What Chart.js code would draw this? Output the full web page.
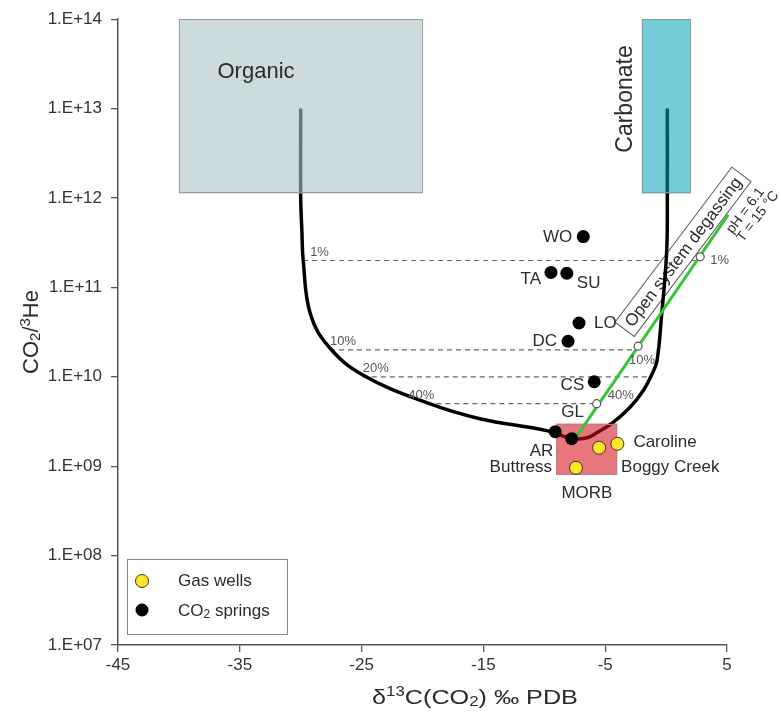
<!DOCTYPE html>
<html>
<head>
<meta charset="utf-8">
<script src="https://cdn.jsdelivr.net/npm/chart.js@4.4.1/dist/chart.umd.min.js"></script>
<style>
  html, body { margin:0; padding:0; background:#fff; }
  canvas { display:block; }
</style>
</head>
<body>
<canvas id="isoChart" width="781" height="716"></canvas>
<script>
const X_TICKS = [-45, -35, -25, -15, -5, 5];
const Y_TICKS = [1e7, 1e8, 1e9, 1e10, 1e11, 1e12, 1e13, 1e14];

// organic -> MORB -> carbonate mixing curve
const CURVE_X = [-30.0, -30.0, -29.9, -29.8, -29.2, -27.6, -24.9, -19.6, -15.3, -9.8, -7.7, -6.5, -5.7, -4.4, -3.0, -1.9, -1.16, -0.75, -0.34, -0.1, 0.07, 0.1, 0.1];
const CURVE_Y = [1e13, 1e12, 4.2e11, 2.06e11, 5e10, 2.1e10, 1.05e10, 5.1e9, 3.4e9, 2.5e9, 2.03e9, 2.08e9, 2.36e9, 3.05e9, 4.5e9, 6.95e9, 1.07e10, 1.5e10, 5.4e10, 1.26e11, 3.0e11, 1e12, 1e13];

// mixing percentages (dashed)
const MIX_LEVELS  = ['1%', '10%', '20%', '40%'];
const MIX_Y       = [2e11, 2e10, 1e10, 5e9];
const MIX_X_LEFT  = [-29.8, -27.6, -24.9, -19.6];
const MIX_X_RIGHT = [2.6, -2.4, -1.2, -5.8];

// open system degassing trend
const DEGAS_X = [-7.3, 5.1];
const DEGAS_Y = [2.2e9, 6.5e11];
const DEGAS_PT_LABELS = ['1%', '10%', '40%'];
const DEGAS_PT_X = [2.8, -2.3, -5.7];
const DEGAS_PT_Y = [2.2e11, 2.2e10, 5e9];

const OUTLIER_X = [8.4];
const OUTLIER_Y = [2.6e9];

const SPRING_NAMES = ['WO', 'TA', 'SU', 'LO', 'DC', 'CS', 'GL', 'AR'];
const SPRING_X = [-6.8, -9.45, -8.15, -7.15, -8.05, -5.9, -7.75, -9.1];
const SPRING_Y = [3.7e11, 1.47e11, 1.44e11, 4.0e10, 2.5e10, 8.8e9, 2.03e9, 2.43e9];

const WELL_NAMES = ['Caroline', 'Boggy Creek', 'Buttress'];
const WELL_X = [-4.0, -5.5, -7.4];
const WELL_Y = [1.78e9, 1.61e9, 9.6e8];

// end-member fields
const SOURCE_NAMES = ['Organic', 'Carbonate', 'MORB'];
const SOURCE_X0 = [-40, -2, -9];
const SOURCE_X1 = [-20, 2, -4];
const SOURCE_Y0 = [1.12e12, 1.12e12, 8e8];
const SOURCE_Y1 = [1e14, 1e14, 3e9];

const FONT = '"Liberation Sans", Arial, sans-serif';
const TEXT = '#2b2b2b';
const SOURCE_STYLE = {
  Organic:   { fill:'rgba(172,195,202,0.6)', line:'#9a9a9a' },
  Carbonate: { fill:'rgba(0,162,184,0.55)',  line:'#8a9a9c' },
  MORB:      { fill:'rgba(214,10,25,0.56)',  line:'#a88' },
};
// label placement around each sample: [dx, dy, align]
const LABEL_POS = {
  WO:[-11,1,'right'], TA:[-10,7,'right'], SU:[10,10,'left'], LO:[15,0,'left'],
  DC:[-11,0,'right'], CS:[-10,4,'right'], GL:[1,-26,'center'], AR:[-2,20,'right'],
  'Caroline':[16,-1,'left'], 'Boggy Creek':[22,20,'left'], 'Buttress':[-24,0,'right'],
};

const pts = (xs, ys) => xs.map((x, i) => ({ x, y: ys[i] }));

const datasets = [];
datasets.push({
  label:'mixing', data: pts(CURVE_X, CURVE_Y), showLine:true,
  borderColor:'#000', borderWidth:3.5, pointRadius:0, tension:0.4, order:9,
});
const CURVE_IDX = 0;
MIX_LEVELS.forEach((lv, i) => datasets.push({
  label:lv, data: pts([MIX_X_LEFT[i], MIX_X_RIGHT[i]], [MIX_Y[i], MIX_Y[i]]), showLine:true,
  borderColor:'#666', borderWidth:1.2, borderDash:[5,4], pointRadius:0, order:10,
}));
datasets.push({
  label:'degassing', data: pts(DEGAS_X, DEGAS_Y), showLine:true,
  borderColor:'#33c633', borderWidth:3, pointRadius:0, order:5, clip:false,
});
datasets.push({
  label:'degassing %', data: pts(DEGAS_PT_X, DEGAS_PT_Y),
  pointRadius:4, pointBackgroundColor:'#fff', pointBorderColor:'#555', pointBorderWidth:1.2, order:4,
});
datasets.push({
  label:'outlier', data: pts(OUTLIER_X, OUTLIER_Y), clip:false,
  pointRadius:5, pointBackgroundColor:'#fff', pointBorderColor:'#666', pointBorderWidth:1.5, order:4,
});
datasets.push({
  label:'CO2 springs', data: pts(SPRING_X, SPRING_Y),
  pointRadius:6.5, pointBackgroundColor:'#000', pointBorderColor:'#000', pointBorderWidth:0, order:3,
});
datasets.push({
  label:'Gas wells', data: pts(WELL_X, WELL_Y),
  pointRadius:6.5, pointBackgroundColor:'#fbe625', pointBorderColor:'#333', pointBorderWidth:1, order:2,
});

// text made of normal / superscript (1) / subscript (-1) pieces
function richText(ctx, parts, x, y, size, align) {
  const small = Math.round(size * 0.68);
  let w = 0;
  parts.forEach(([t, k]) => { ctx.font = (k ? small : size) + 'px ' + FONT; w += ctx.measureText(t).width; });
  let cx = align === 'center' ? x - w / 2 : x;
  ctx.textAlign = 'left';
  ctx.textBaseline = 'alphabetic';
  parts.forEach(([t, k]) => {
    ctx.font = (k ? small : size) + 'px ' + FONT;
    const dy = k === 1 ? -size * 0.36 : k === -1 ? size * 0.1 : 0;
    ctx.fillText(t, cx, y + dy);
    cx += ctx.measureText(t).width;
  });
}

function drawDegasBox(chart) {
  const ctx = chart.ctx, xs = chart.scales.x, ys = chart.scales.y;
  const cx = xs.getPixelForValue(1.39), cy = ys.getPixelForValue(2.5e11);
  ctx.save();
  ctx.translate(cx, cy);
  ctx.rotate(-53 * Math.PI / 180);
  ctx.fillStyle = '#fff';
  ctx.fillRect(-97, -12, 194, 24);
  ctx.strokeStyle = '#555';
  ctx.lineWidth = 1;
  ctx.strokeRect(-97, -12, 194, 24);
  ctx.fillStyle = TEXT;
  ctx.font = '17px ' + FONT;
  ctx.textAlign = 'center';
  ctx.textBaseline = 'middle';
  ctx.fillText('Open system degassing', 0, 1);
  ctx.restore();
}

function drawSources(chart) {
  const ctx = chart.ctx, xs = chart.scales.x, ys = chart.scales.y;
  SOURCE_NAMES.forEach((name, i) => {
    const l = xs.getPixelForValue(SOURCE_X0[i]), r = xs.getPixelForValue(SOURCE_X1[i]);
    const t = ys.getPixelForValue(SOURCE_Y1[i]), b = ys.getPixelForValue(SOURCE_Y0[i]);
    const st = SOURCE_STYLE[name];
    ctx.save();
    ctx.fillStyle = st.fill;
    ctx.fillRect(l, t, r - l, b - t);
    ctx.strokeStyle = st.line;
    ctx.lineWidth = 1;
    ctx.strokeRect(Math.round(l) + 0.5, Math.round(t) + 0.5, Math.round(r - l) - 1, Math.round(b - t) - 1);
    ctx.restore();
  });
}

function drawAnnotations(chart) {
  const ctx = chart.ctx, xs = chart.scales.x, ys = chart.scales.y, area = chart.chartArea;
  const px = v => xs.getPixelForValue(v), py = v => ys.getPixelForValue(v);
  ctx.save();
  ctx.fillStyle = TEXT;

  // end-member names
  ctx.font = '22px ' + FONT;
  ctx.textAlign = 'center';
  ctx.textBaseline = 'middle';
  ctx.fillText('Organic', px(-33.67), py(2.57e13));
  ctx.save();
  ctx.translate(px(-3.37), py(1.28e13));
  ctx.rotate(-Math.PI / 2);
  ctx.font = '23px ' + FONT;
  ctx.fillText('Carbonate', 0, 1);
  ctx.restore();
  ctx.font = '17px ' + FONT;
  ctx.fillText('MORB', (px(SOURCE_X0[2]) + px(SOURCE_X1[2])) / 2, py(SOURCE_Y0[2]) + 18);

  // sample labels
  ctx.font = '17px ' + FONT;
  const label = (names, xv, yv) => names.forEach((n, i) => {
    const [dx, dy, al] = LABEL_POS[n];
    ctx.textAlign = al;
    ctx.fillText(n, px(xv[i]) + dx, py(yv[i]) + dy);
  });
  label(SPRING_NAMES, SPRING_X, SPRING_Y);
  label(WELL_NAMES, WELL_X, WELL_Y);

  // mixing percentages
  ctx.fillStyle = '#555';
  ctx.font = '13px ' + FONT;
  ctx.textAlign = 'left';
  const leftShift = [7, 0, 0, -19];
  MIX_LEVELS.forEach((lv, i) => ctx.fillText(lv, px(MIX_X_LEFT[i]) + leftShift[i], py(MIX_Y[i]) - 8));
  ctx.fillText(DEGAS_PT_LABELS[0], px(DEGAS_PT_X[0]) + 10, py(DEGAS_PT_Y[0]) + 4);
  ctx.textAlign = 'center';
  ctx.fillText(DEGAS_PT_LABELS[1], px(DEGAS_PT_X[1]) + 4, py(DEGAS_PT_Y[1]) + 14);
  ctx.textAlign = 'left';
  ctx.fillText(DEGAS_PT_LABELS[2], px(DEGAS_PT_X[2]) + 11, py(DEGAS_PT_Y[2]) - 8);

  // pH / temperature of the degassing model
  ctx.fillStyle = TEXT;
  ctx.font = '14px ' + FONT;
  ctx.textAlign = 'center';
  [['pH = 6.1', 6.52, 7.2e11], ['T = 15 \u00B0C', 7.54, 6.2e11]].forEach(([t, xv, yv]) => {
    ctx.save();
    ctx.translate(px(xv), py(yv));
    ctx.rotate(-53 * Math.PI / 180);
    ctx.fillText(t, 0, 0);
    ctx.restore();
  });

  // legend
  const lx = area.left + 9, ly = area.bottom - 86;
  ctx.fillStyle = '#fff';
  ctx.fillRect(lx, ly, 160, 75);
  ctx.strokeStyle = '#888';
  ctx.lineWidth = 1;
  ctx.strokeRect(lx + 0.5, ly + 0.5, 160, 75);
  ctx.beginPath();
  ctx.arc(lx + 15, ly + 22, 6.5, 0, Math.PI * 2);
  ctx.fillStyle = '#fbe625'; ctx.fill();
  ctx.strokeStyle = '#333'; ctx.stroke();
  ctx.beginPath();
  ctx.arc(lx + 15, ly + 51, 6.5, 0, Math.PI * 2);
  ctx.fillStyle = '#000'; ctx.fill();
  ctx.fillStyle = TEXT;
  ctx.textAlign = 'left';
  ctx.textBaseline = 'middle';
  ctx.font = '17px ' + FONT;
  ctx.fillText('Gas wells', lx + 51, ly + 22);
  ctx.textBaseline = 'alphabetic';
  richText(ctx, [['CO', 0], ['2', -1], [' springs', 0]], lx + 51, ly + 57, 17, 'left');

  // axis titles
  ctx.save();
  ctx.translate(475, 704);
  ctx.scale(1.2, 1);
  richText(ctx, [['\u03B4', 0], ['13', 1], ['C(CO', 0], ['2', -1], [') \u2030 PDB', 0]], 0, 0, 21, 'center');
  ctx.restore();
  ctx.save();
  ctx.translate(38, 332);
  ctx.rotate(-Math.PI / 2);
  richText(ctx, [['CO', 0], ['2', -1], ['/', 0], ['3', 1], ['He', 0]], 0, 0, 22, 'center');
  ctx.restore();

  ctx.restore();
}

const overlay = {
  id:'overlay',
  beforeDatasetDraw(chart, args) { if (args.index === CURVE_IDX) drawDegasBox(chart); },
  afterDatasetDraw(chart, args) { if (args.index === CURVE_IDX) drawSources(chart); },
  afterDatasetsDraw(chart) { drawAnnotations(chart); },
};

const axisLine = { color:'#555', width:1.5 };
new Chart(document.getElementById('isoChart'), {
  type:'scatter',
  data:{ datasets },
  plugins:[overlay],
  options:{
    responsive:false, animation:false, events:[],
    layout:{ padding:{ top:17, right:54, left:0, bottom:0 } },
    plugins:{ legend:{ display:false }, tooltip:{ enabled:false } },
    scales:{
      x:{
        type:'linear', min:-45, max:5,
        afterBuildTicks: s => { s.ticks = X_TICKS.map(v => ({ value:v })); },
        afterFit: s => { s.height = 71; },
        ticks:{ font:{ family:FONT, size:17 }, color:'#333', padding:3, maxRotation:0, autoSkip:false },
        grid:{ drawOnChartArea:false, tickLength:7, color:'#555', lineWidth:1.3 },
        border:axisLine,
      },
      y:{
        type:'logarithmic', min:1e7, max:1e14,
        afterBuildTicks: s => { s.ticks = Y_TICKS.map(v => ({ value:v })); },
        afterFit: s => { s.width = 118; },
        ticks:{
          font:{ family:FONT, size:17 }, color:'#333', padding:9, autoSkip:false,
          callback: v => '1.E+' + String(Math.round(Math.log10(v))).padStart(2, '0'),
        },
        grid:{ drawOnChartArea:false, tickLength:7, color:'#555', lineWidth:1.3 },
        border:axisLine,
      },
    },
  },
});
</script>
</body>
</html>
